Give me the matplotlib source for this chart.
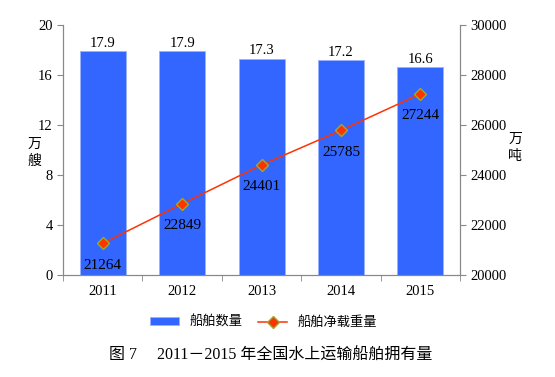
import numpy as np
import matplotlib.pyplot as plt

plt.rcParams['font.family'] = ['Liberation Serif', 'Noto Sans CJK SC']

years = ['2011', '2012', '2013', '2014', '2015']
ships = [17.9, 17.9, 17.3, 17.2, 16.6]          # 万艘
tonnage = [21264, 22849, 24401, 25785, 27244]   # 万吨

fig = plt.figure(figsize=(5.55, 3.77), dpi=100)
ax = fig.add_axes([0.1135, 0.2706, 0.7155, 0.6631])
x = np.arange(len(years))

bars = ax.bar(x, ships, width=0.58, color='#3366FF', edgecolor='#99B3FF', linewidth=0.6,
              label='船舶数量', zorder=2)
for xi, v in zip(x, ships):
    ax.text(xi, v + 0.1, f'{v:.1f}', ha='center', va='bottom', fontsize=10.5)

ax.set_xlim(-0.5, len(years) - 0.5)
ax.set_ylim(0, 20)
ax.set_yticks([0, 4, 8, 12, 16, 20])
ax.set_xticks(x)
ax.set_xticklabels(years, fontsize=10.5)
ax.set_xticks(np.arange(-0.5, len(years), 1), minor=True)
ax.tick_params(axis='x', which='major', length=0, pad=7)
ax.tick_params(axis='x', which='minor', length=4, direction='out', color='#888888')
ax.tick_params(axis='y', labelsize=10.5, length=4, color='#888888')

ax2 = ax.twinx()
line, = ax2.plot(x, tonnage, color='#FF3300', linewidth=1.1, marker='D', markersize=6,
                 markerfacecolor='#FF3300', markeredgecolor='#99AA33', markeredgewidth=1,
                 label='船舶净载重量', zorder=3)
for xi, v in zip(x, tonnage):
    ax2.annotate(f'{v}', (xi, v), xytext=(0, -11), textcoords='offset points',
                 ha='center', va='top', fontsize=11)
ax2.set_ylim(20000, 30000)
ax2.set_yticks(range(20000, 30001, 2000))
ax2.tick_params(axis='y', labelsize=10.5, length=4, color='#888888')

for a in (ax, ax2):
    a.spines['top'].set_visible(False)
    for s in ('left', 'right', 'bottom'):
        a.spines[s].set_color('#888888')
        a.spines[s].set_linewidth(0.8)

fig.text(0.062, 0.595, '万\n艘', ha='center', va='center', fontsize=10,
         family=['Noto Sans CJK SC'], linespacing=1.3)
fig.text(0.928, 0.61, '万\n吨', ha='center', va='center', fontsize=10,
         family=['Noto Sans CJK SC'], linespacing=1.3)

fig.legend(handles=[bars, line], loc='center', bbox_to_anchor=(0.475, 0.145), ncol=2,
           frameon=False, handlelength=2.2, handleheight=0.5, columnspacing=1.2,
           prop={'family': ['Noto Sans CJK SC'], 'size': 9.5})

fig.text(0.487, 0.055, '图 7\u3000 2011－2015 年全国水上运输船舶拥有量', ha='center', va='center',
         fontsize=11.5, family=['Liberation Serif', 'Noto Sans CJK SC'])

fig.savefig('out.png', dpi=100)
